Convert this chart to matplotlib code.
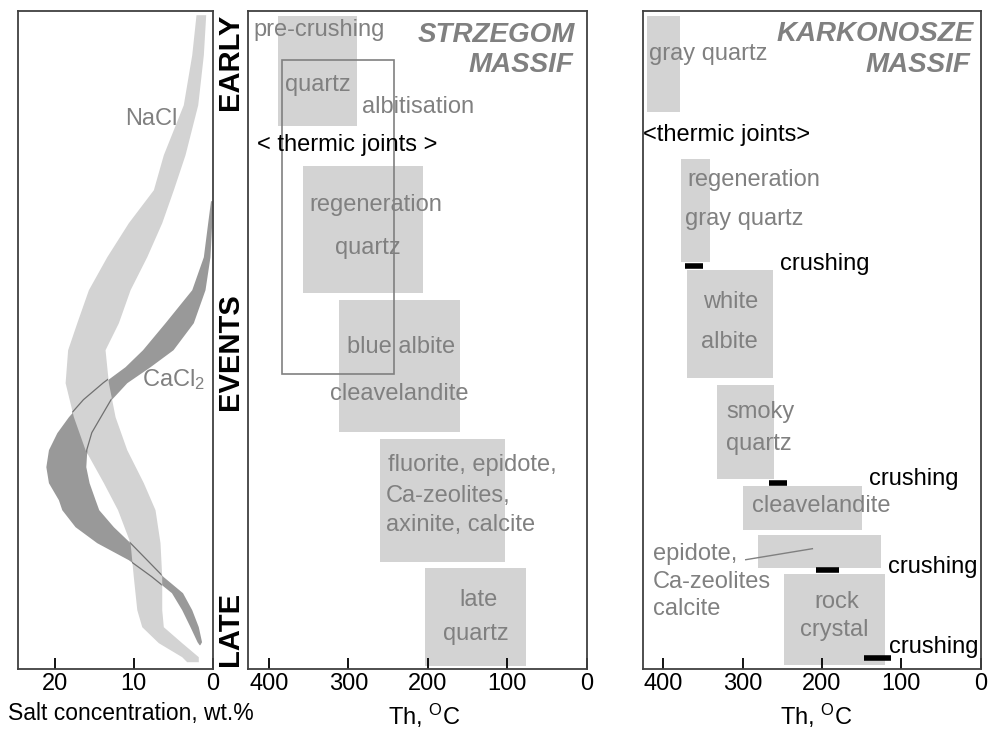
import matplotlib
matplotlib.use("Agg")
import matplotlib.pyplot as plt
from matplotlib.patches import Rectangle

plt.rcParams["font.family"] = ["Liberation Sans", "DejaVu Sans"]
plt.rcParams["mathtext.fontset"] = "custom"
plt.rcParams["mathtext.rm"] = "Liberation Sans"
plt.rcParams["mathtext.it"] = "Liberation Sans:italic"
plt.rcParams["mathtext.bf"] = "Liberation Sans:bold"

# --- salt concentration bands (y = relative event sequence, 0 = earliest) ---
nacl_y = [4, 44, 94, 144, 179, 212, 246, 279, 312, 339, 372, 406, 439, 472,
          499, 532, 566, 599, 616, 632, 646, 651]
nacl_hi = [2.09, 2.63, 3.70, 6.23, 7.49, 10.66, 13.39, 15.72, 17.19, 18.35, 18.67,
           17.62, 16.14, 13.82, 12.03, 10.44, 10.03, 9.59, 8.96, 6.86, 3.90, 3.27]
nacl_lo = [0.86, 1.16, 1.87, 3.48, 4.96, 6.43, 8.33, 10.44, 11.92, 13.61, 13.19,
           12.34, 10.86, 8.76, 7.28, 6.65, 6.43, 6.43, 6.23, 3.90, 1.80, 1.80]

cacl_y = [190, 212, 246, 279, 312, 339, 356, 372, 389, 406, 422, 439, 456, 472,
          489, 499, 516, 532, 549, 566, 582, 599, 616, 631, 634]
cacl_hi = [0.25, 0.61, 1.16, 2.63, 6.01, 8.86, 11.08, 13.82, 16.35, 18.25, 19.72,
           20.78, 21.11, 20.78, 19.52, 19.09, 17.41, 14.66, 10.66, 7.70, 5.20,
           3.90, 2.85, 1.96, 1.70]
cacl_lo = [0.00, 0.10, 0.32, 0.95, 2.43, 5.00, 7.91, 10.86, 12.85, 14.11, 15.29,
           15.92, 16.05, 15.63, 14.87, 14.41, 12.56, 10.44, 8.33, 6.23, 3.80,
           2.63, 1.80, 1.39, 1.60]

# --- Strzegom massif: Th ranges (deg C) and event extent ---
strz_hi = [389, 357, 312, 260, 204]
strz_lo = [289, 206, 159, 103, 76]
strz_top = [5, 155, 289, 428, 557]
strz_bot = [115, 282, 421, 551, 655]
albit_hi, albit_lo, albit_top, albit_bot = 383, 243, 49, 363

# --- Karkonosze massif ---
kark_hi = [420, 378, 370, 332, 299, 281, 248]
kark_lo = [379, 341, 262, 260, 150, 126, 120]
kark_top = [5, 148, 259, 374, 475, 524, 563]
kark_bot = [101, 251, 367, 468, 519, 557, 654]
crush_hi = [372, 267, 208, 147]
crush_lo = [350, 244, 178, 113]
crush_y = [255, 472, 559, 647]

GRAY_TXT = "#808080"
BOX = "#d3d3d3"
DARK = "#999999"
FS = 17

fig = plt.figure(figsize=(9.88, 7.29), dpi=100)
W, H = 988.0, 729.0
axL = fig.add_axes([17.5 / W, 1 - 669 / H, 195 / W, 658.3 / H])
axM = fig.add_axes([248.3 / W, 1 - 669 / H, 338.4 / W, 658.3 / H])
axR = fig.add_axes([643.3 / W, 1 - 669 / H, 337.4 / W, 658.3 / H])

for ax in (axL, axM, axR):
    ax.set_ylim(658.3, 0)
    ax.set_yticks([])
    for s in ax.spines.values():
        s.set_color("#404040")
        s.set_linewidth(1.3)
    ax.tick_params(axis="x", direction="in", length=8, width=1.3,
                   labelsize=FS, pad=3, colors="black")

# left panel: salinity bands
axL.set_xlim(24.7, 0)
axL.set_xticks([20, 10, 0])
axL.fill_betweenx(cacl_y, cacl_lo, cacl_hi, color=DARK, lw=0, zorder=1)
nacl_fill = axL.fill_betweenx(nacl_y, nacl_lo, nacl_hi, color=BOX, lw=0, zorder=2)
# CaCl2 outline shows only where the NaCl band covers it
clip = nacl_fill.get_paths()[0]
for xs in (cacl_hi, cacl_lo):
    ln, = axL.plot(xs, cacl_y, color="#707070", lw=0.9, zorder=3)
    ln.set_clip_path(clip, transform=axL.transData)
axL.text(7.8, 108, "NaCl", color=GRAY_TXT, fontsize=FS, ha="center", va="center")
axL.text(4.9, 369, "CaCl$_2$", color=GRAY_TXT, fontsize=FS, ha="center", va="center")

# middle panel: Strzegom
axM.set_xlim(426, 0)
axM.set_xticks([400, 300, 200, 100, 0])
axM.barh([(t + b) / 2 for t, b in zip(strz_top, strz_bot)],
         [h - l for h, l in zip(strz_hi, strz_lo)],
         height=[b - t for t, b in zip(strz_top, strz_bot)],
         left=strz_lo, color=BOX, lw=0, zorder=1)
axM.add_patch(Rectangle((albit_lo, albit_top), albit_hi - albit_lo,
                        albit_bot - albit_top, fill=False,
                        edgecolor=GRAY_TXT, lw=1.2, zorder=2))
kw = dict(color=GRAY_TXT, fontsize=FS, va="center", zorder=3)
axM.text(337, 19, "pre-crushing", ha="center", **kw)
axM.text(338, 74, "quartz", ha="center", **kw)
axM.text(212, 96, "albitisation", ha="center", **kw)
axM.text(302, 134, "< thermic joints >", ha="center", va="center",
         fontsize=FS, color="black", zorder=3)
axM.text(266, 194, "regeneration", ha="center", **kw)
axM.text(275, 237, "quartz", ha="center", **kw)
axM.text(234, 336, "blue albite", ha="center", **kw)
axM.text(236, 383, "cleavelandite", ha="center", **kw)
axM.text(250, 454, "fluorite, epidote,", ha="left", **kw)
axM.text(253, 485, "Ca-zeolites,", ha="left", **kw)
axM.text(253, 514, "axinite, calcite", ha="left", **kw)
axM.text(136, 589, "late", ha="center", **kw)
axM.text(139, 623, "quartz", ha="center", **kw)
tkw = dict(color=GRAY_TXT, fontsize=20, fontweight="bold", fontstyle="italic",
           ha="right", va="center")
axM.text(15, 24, "STRZEGOM", **tkw)
axM.text(17, 54, "MASSIF", **tkw)

# right panel: Karkonosze
axR.set_xlim(425, 0)
axR.set_xticks([400, 300, 200, 100, 0])
axR.barh([(t + b) / 2 for t, b in zip(kark_top, kark_bot)],
         [h - l for h, l in zip(kark_hi, kark_lo)],
         height=[b - t for t, b in zip(kark_top, kark_bot)],
         left=kark_lo, color=BOX, lw=0, zorder=1)
axR.hlines(crush_y, crush_lo, crush_hi, color="black", lw=4, zorder=2)
axR.plot([296, 212], [549, 538], color=GRAY_TXT, lw=1, zorder=2)
axR.text(417.5, 43, "gray quartz", ha="left", **kw)
axR.text(425, 124, "<thermic joints>", ha="left", va="center",
         fontsize=FS, color="black", zorder=3)
axR.text(370, 169, "regeneration", ha="left", **kw)
axR.text(372.5, 208, "gray quartz", ha="left", **kw)
axR.text(315, 291, "white", ha="center", **kw)
axR.text(316, 331, "albite", ha="center", **kw)
axR.text(277, 401, "smoky", ha="center", **kw)
axR.text(280, 433, "quartz", ha="center", **kw)
axR.text(201, 495, "cleavelandite", ha="center", **kw)
axR.text(412.5, 543, "epidote,", ha="left", **kw)
axR.text(412.5, 571, "Ca-zeolites", ha="left", **kw)
axR.text(412.5, 598, "calcite", ha="left", **kw)
axR.text(181, 591, "rock", ha="center", **kw)
axR.text(184, 619, "crystal", ha="center", **kw)
ckw = dict(color="black", fontsize=FS, ha="left", va="center", zorder=3)
axR.text(253, 253, "crushing", **ckw)
axR.text(141, 468, "crushing", **ckw)
axR.text(117, 556, "crushing", **ckw)
axR.text(115, 636, "crushing", **ckw)
axR.text(9, 23, "KARKONOSZE", **tkw)
axR.text(13.5, 54, "MASSIF", **tkw)

# stage labels and axis titles
skw = dict(fontsize=21, fontweight="bold", rotation=90, ha="center", va="center")
fig.text(230 / W, 1 - 62 / H, "EARLY", **skw)
fig.text(230 / W, 1 - 352 / H, "EVENTS", **skw)
fig.text(230 / W, 1 - 629 / H, "LATE", **skw)
fig.text(131 / W, 1 - 720 / H, "Salt concentration, wt.%", fontsize=16.5,
         ha="center", va="baseline")
fig.text(424 / W, 1 - 725 / H, "Th, $^{\\mathrm{O}}$C", fontsize=FS,
         ha="center", va="baseline")
fig.text(816 / W, 1 - 725 / H, "Th, $^{\\mathrm{O}}$C", fontsize=FS,
         ha="center", va="baseline")

fig.savefig("out.png", dpi=100)
